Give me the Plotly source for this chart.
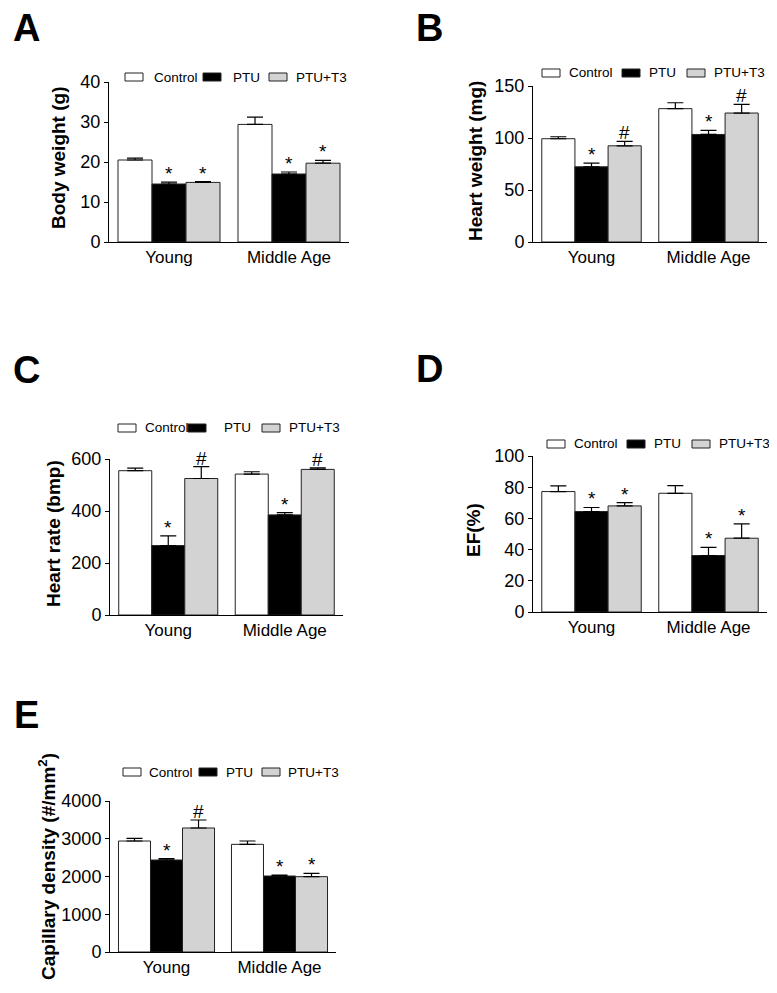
import plotly.graph_objects as go

# page body has an 8px default margin, so the figure is drawn 8px in
PAGE_W, PAGE_H, BODY = 777, 993, 8
W, H = PAGE_W - BODY, PAGE_H - BODY
FONT = "Liberation Sans, Arial, sans-serif"

# ---------------- data ----------------
groups = ["Young", "Middle Age"]
series = ["Control", "PTU", "PTU+T3"]
colors = ["#ffffff", "#000000", "#d3d3d3"]

# Panel A: body weight (g)
bw_control = [20.5, 29.4]
bw_control_err = [0.45, 1.8]
bw_ptu = [14.5, 17.0]
bw_ptu_err = [0.45, 0.5]
bw_t3 = [14.9, 19.7]
bw_t3_err = [0.2, 0.7]
bw_marks = [["", ""], ["*", "*"], ["*", "*"]]

# Panel B: heart weight (mg)
hw_control = [99.3, 128.2]
hw_control_err = [1.9, 5.7]
hw_ptu = [72.3, 103.4]
hw_ptu_err = [3.5, 3.9]
hw_t3 = [92.5, 124.0]
hw_t3_err = [4.2, 8.3]
hw_marks = [["", ""], ["*", "*"], ["#", "#"]]

# Panel C: heart rate (bmp)
hr_control = [555, 542]
hr_control_err = [10, 9]
hr_ptu = [267, 385]
hr_ptu_err = [37, 9]
hr_t3 = [525, 560]
hr_t3_err = [46, 6]
hr_marks = [["", ""], ["*", "*"], ["#", "#"]]

# Panel D: EF (%)
ef_control = [77.2, 76.1]
ef_control_err = [3.6, 4.9]
ef_ptu = [64.4, 36.2]
ef_ptu_err = [2.6, 5.2]
ef_t3 = [68.0, 47.3]
ef_t3_err = [2.1, 9.2]
ef_marks = [["", ""], ["*", "*"], ["*", "*"]]

# Panel E: capillary density (#/mm2)
cd_control = [2940, 2852]
cd_control_err = [71, 88]
cd_ptu = [2437, 2013]
cd_ptu_err = [35, 27]
cd_t3 = [3285, 1996]
cd_t3_err = [212, 88]
cd_marks = [["", ""], ["*", "*"], ["#", "*"]]

# ---------------- layout geometry (page pixels) ----------------
panels = [
    dict(letter="A", title="Body weight (g)", vals=[bw_control, bw_ptu, bw_t3],
         errs=[bw_control_err, bw_ptu_err, bw_t3_err], marks=bw_marks,
         yrange=[0, 40], dtick=10, xd=(109, 349), yd=(82, 242),
         letter_pos=(11, 5), title_pos=(58, 158),
         leg_y=77, leg_box=[125, 203, 269], leg_txt=[152, 231, 294]),
    dict(letter="B", title="Heart weight (mg)", vals=[hw_control, hw_ptu, hw_t3],
         errs=[hw_control_err, hw_ptu_err, hw_t3_err], marks=hw_marks,
         yrange=[0, 150], dtick=50, xd=(533, 767), yd=(86, 242),
         letter_pos=(414, 5), title_pos=(475, 161),
         leg_y=73, leg_box=[542, 622, 687], leg_txt=[567, 647, 712]),
    dict(letter="C", title="Heart rate (bmp)", vals=[hr_control, hr_ptu, hr_t3],
         errs=[hr_control_err, hr_ptu_err, hr_t3_err], marks=hr_marks,
         yrange=[0, 600], dtick=200, xd=(110, 343), yd=(459, 615),
         letter_pos=(11, 347), title_pos=(53, 534),
         leg_y=428, leg_box=[118, 188, 262], leg_txt=[143, 222, 287]),
    dict(letter="D", title="EF(%)", vals=[ef_control, ef_ptu, ef_t3],
         errs=[ef_control_err, ef_ptu_err, ef_t3_err], marks=ef_marks,
         yrange=[0, 100], dtick=20, xd=(533, 767), yd=(456, 612),
         letter_pos=(414, 346), title_pos=(473, 530),
         leg_y=444, leg_box=[547, 627, 692], leg_txt=[572, 652, 717]),
    dict(letter="E", title="Capillary density (#/mm<sup>2</sup>)", vals=[cd_control, cd_ptu, cd_t3],
         errs=[cd_control_err, cd_ptu_err, cd_t3_err], marks=cd_marks,
         yrange=[0, 4000], dtick=1000, xd=(110, 336), yd=(801, 952),
         letter_pos=(12, 692), title_pos=(47, 867),
         leg_y=772, leg_box=[123, 199, 262], leg_txt=[147, 224, 286]),
]


def px(x):
    return (x - BODY) / W


def py(y):
    return 1 - (y - BODY) / H


BARGAP = 0.15
nser = len(series)
bw_unit = (1 - BARGAP) / nser

fig = go.Figure()
annotations = []
shapes = []
layout_axes = {}

for i, p in enumerate(panels):
    n = "" if i == 0 else str(i + 1)
    xa, ya = "x" + n, "y" + n
    xpos = list(range(len(groups)))
    for j, s in enumerate(series):
        fig.add_trace(go.Bar(
            x=xpos, y=p["vals"][j], name=s, showlegend=False,
            xaxis=xa, yaxis=ya,
            marker=dict(color=colors[j], line=dict(color="#222222", width=1)),
            error_y=dict(type="data", symmetric=False, array=p["errs"][j],
                         arrayminus=[0] * len(groups), color="#000000",
                         thickness=1.2, width=8),
        ))
        for k in range(len(groups)):
            m = p["marks"][j][k]
            if m:
                annotations.append(dict(
                    x=k + (j - 1) * bw_unit, y=p["vals"][j][k] + p["errs"][j][k],
                    xref=xa, yref=ya, text=m, showarrow=False,
                    xanchor="center", yanchor="bottom", yshift=-4,
                    font=dict(family=FONT, size=19, color="#000000")))
    layout_axes["xaxis" + n] = dict(
        domain=[px(p["xd"][0]), px(p["xd"][1])], anchor=ya, automargin=False,
        range=[-0.5, len(groups) - 0.5], tickvals=xpos, ticktext=groups,
        showline=True, linecolor="#000000", linewidth=1, ticks="",
        showgrid=False, zeroline=False, fixedrange=True,
        tickfont=dict(family=FONT, size=17, color="#000000"))
    layout_axes["yaxis" + n] = dict(
        domain=[py(p["yd"][1]), py(p["yd"][0])], anchor=xa, automargin=False,
        range=p["yrange"], dtick=p["dtick"], tick0=0,
        showline=True, linecolor="#000000", linewidth=1,
        ticks="outside", ticklen=4, tickwidth=1, tickcolor="#000000",
        showgrid=False, zeroline=False, fixedrange=True,
        tickfont=dict(family=FONT, size=18, color="#000000"))
    # panel letter
    annotations.append(dict(
        x=px(p["letter_pos"][0]), y=py(p["letter_pos"][1]), xref="paper", yref="paper",
        text="<b>%s</b>" % p["letter"], showarrow=False, xanchor="left", yanchor="top",
        font=dict(family=FONT, size=38, color="#000000")))
    # y title
    annotations.append(dict(
        x=px(p["title_pos"][0]), y=py(p["title_pos"][1]), xref="paper", yref="paper",
        text="<b>%s</b>" % p["title"], showarrow=False, textangle=-90,
        xanchor="center", yanchor="middle",
        font=dict(family=FONT, size=19, color="#000000")))
    # legend
    for j, s in enumerate(series):
        x0 = p["leg_box"][j]
        shapes.append(dict(
            type="rect", xref="paper", yref="paper",
            x0=px(x0), x1=px(x0 + 18), y0=py(p["leg_y"] + 4), y1=py(p["leg_y"] - 4),
            fillcolor=colors[j], line=dict(color="#222222", width=1)))
        annotations.append(dict(
            x=px(p["leg_txt"][j]), y=py(p["leg_y"]), xref="paper", yref="paper",
            text=s, showarrow=False, xanchor="left", yanchor="middle",
            font=dict(family=FONT, size=13.5, color="#000000")))

fig.update_layout(
    template="none",
    width=W, height=H, margin=dict(l=0, r=0, t=0, b=0, pad=0, autoexpand=False),
    paper_bgcolor="#ffffff", plot_bgcolor="#ffffff",
    barmode="group", bargap=BARGAP, bargroupgap=0,
    annotations=annotations, shapes=shapes, showlegend=False,
    font=dict(family=FONT, color="#000000"),
    **layout_axes,
)

fig.write_html("out.html", config=dict(displayModeBar=False))
